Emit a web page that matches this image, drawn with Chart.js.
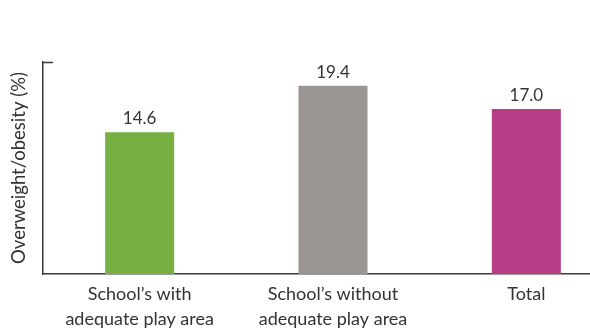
<!DOCTYPE html>
<html>
<head>
<meta charset="utf-8">
<script src="https://cdn.jsdelivr.net/npm/chart.js@4"></script>
<style>
  html, body { margin: 0; padding: 0; background: #fff; overflow: hidden; }
  #clip { width: 590px; height: 328px; overflow: hidden; }
  /* plot runs a bit past the right edge, like the original axis line */
  #wrap { width: 623px; height: 328px; }
</style>
</head>
<body>
<div id="clip"><div id="wrap"><canvas id="chart"></canvas></div></div>
<script>
const categories = [
  ['School\u2019s with', 'adequate play area'],
  ['School\u2019s without', 'adequate play area'],
  'Total'
];
const rates = [14.6, 19.4, 17.0];
const barColors = ['#76b043', '#9a9592', '#b53c86'];
const yTitle = 'Overweight/obesity (%)';

const textColor = '#333333';
const axisColor = '#3a3a3a';

// values above bars + small tick at top of y axis
const extras = {
  id: 'extras',
  afterDatasetsDraw(chart) {
    const ctx = chart.ctx;
    const meta = chart.getDatasetMeta(0);
    ctx.save();
    ctx.fillStyle = textColor;
    ctx.font = '17px Lato';
    ctx.textAlign = 'center';
    ctx.textBaseline = 'alphabetic';
    meta.data.forEach((bar, i) => {
      ctx.fillText(rates[i].toFixed(1), bar.x, bar.y - 8);
    });
    const y = chart.scales.y;
    const top = Math.round(y.top) + 0.5;
    ctx.strokeStyle = axisColor;
    ctx.lineWidth = 1.5;
    ctx.beginPath();
    ctx.moveTo(chart.chartArea.left, top);
    ctx.lineTo(chart.chartArea.left + 10, top);
    ctx.stroke();
    ctx.restore();
  }
};

new Chart(document.getElementById('chart'), {
  type: 'bar',
  data: {
    labels: categories,
    datasets: [{
      data: rates,
      backgroundColor: barColors,
      barPercentage: 0.357,
      categoryPercentage: 1
    }]
  },
  options: {
    responsive: true,
    maintainAspectRatio: false,
    animation: false,
    layout: { padding: { top: 62, right: 0, left: 0, bottom: 0 } },
    plugins: { legend: { display: false }, tooltip: { enabled: false } },
    scales: {
      x: {
        offset: true,
        grid: { display: false, drawTicks: false },
        border: { color: axisColor, width: 1.5 },
        ticks: {
          color: textColor,
          padding: 8,
          maxRotation: 0,
          autoSkip: false,
          font: { family: 'Lato', size: 18, lineHeight: '25px' }
        },
        afterFit(scale) { scale.height = 54; }
      },
      y: {
        min: 0,
        max: 21.85,
        grid: { display: false, drawTicks: false },
        border: { color: axisColor, width: 1.5 },
        ticks: { display: false },
        title: {
          display: true,
          text: yTitle,
          color: textColor,
          font: { family: 'Lato', size: 18.5 },
          padding: { top: 8, bottom: 0 }
        },
        afterFit(scale) { scale.width = 43; }
      }
    }
  },
  plugins: [extras]
});
</script>
</body>
</html>
